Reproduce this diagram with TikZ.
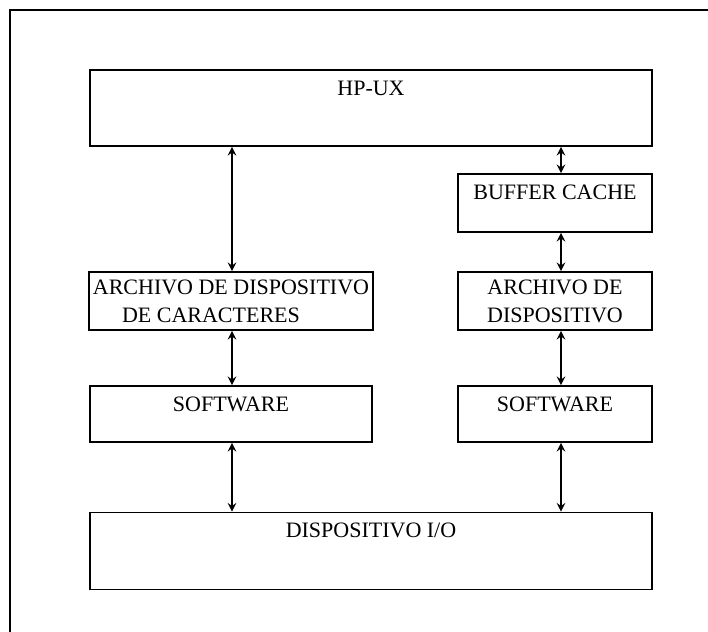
\documentclass[tikz,border=0pt]{standalone}
\usepackage{fontspec}
\setmainfont{Liberation Serif}
\usepackage{tikz}

\begin{document}
\begin{tikzpicture}[
    x=0.5pt, y=-0.5pt,
    box/.style={draw, line width=0.9pt, inner xsep=2pt, inner ysep=0pt,
                text height=12.5pt, font=\fontsize{11}{13.5}\selectfont},
    box2/.style={draw, line width=0.9pt, inner sep=2pt, align=center,
                 font=\fontsize{11}{14}\selectfont},
    arrow/.style={<->, line width=0.9pt, >=stealth},
  ]
  \useasboundingbox (0,0) rectangle (708,632);
  \draw[line width=1.3pt] (10,632) -- (10,10) -- (708,10);

  \coordinate (lx) at (232,0);
  \coordinate (rx) at (561,0);

  \node[box, minimum width=281pt, text depth=25.5pt] (hpux)   at (371,108) {HP-UX};
  \node[box, minimum width=97pt,  text depth=16.5pt] (buffer) at (555,203) {BUFFER CACHE};
  \node[box2, minimum width=141pt, minimum height=29pt] (archl) at (231,301)
    {ARCHIVO DE DISPOSITIVO\\ DE CARACTERES\hspace*{20pt}};
  \node[box2, minimum width=97pt, minimum height=29pt]  (archr) at (555,301)
    {ARCHIVO DE\\ DISPOSITIVO};
  \node[box, minimum width=141pt, text depth=15.5pt] (softl)  at (231,414) {SOFTWARE};
  \node[box, minimum width=97pt,  text depth=15.5pt] (softr)  at (555,414) {SOFTWARE};
  \node[box, minimum width=281pt, text depth=26pt]   (disp)   at (371,551) {DISPOSITIVO I/O};

  \draw[arrow] (hpux.south -| lx)   -- (archl.north -| lx);
  \draw[arrow] (archl.south -| lx)  -- (softl.north -| lx);
  \draw[arrow] (softl.south -| lx)  -- (disp.north -| lx);
  \draw[arrow] (hpux.south -| rx)   -- (buffer.north -| rx);
  \draw[arrow] (buffer.south -| rx) -- (archr.north -| rx);
  \draw[arrow] (archr.south -| rx)  -- (softr.north -| rx);
  \draw[arrow] (softr.south -| rx)  -- (disp.north -| rx);
\end{tikzpicture}
\end{document}
